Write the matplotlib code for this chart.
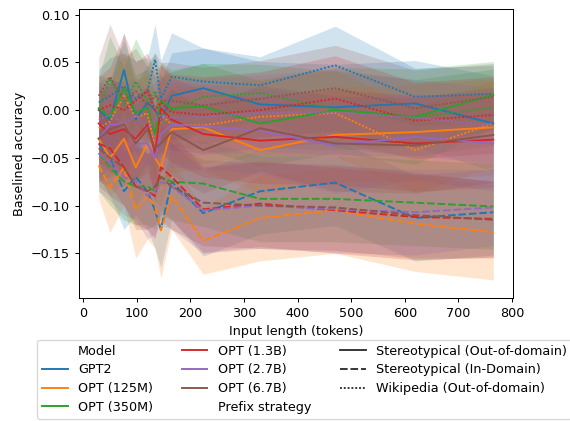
import matplotlib.pyplot as plt
from matplotlib.lines import Line2D

# input lengths (tokens) where the runs were evaluated
x_tokens = [29, 50, 76, 98, 120, 134, 145, 165, 224, 330, 470, 619, 765]

models = ["GPT2", "OPT (125M)", "OPT (350M)", "OPT (1.3B)", "OPT (2.7B)", "OPT (6.7B)"]
colors = ["tab:blue", "tab:orange", "tab:green", "tab:red", "tab:purple", "tab:brown"]

strategies = ["Stereotypical (Out-of-domain)", "Stereotypical (In-Domain)", "Wikipedia (Out-of-domain)"]
dash_styles = ["-", (0, (4, 1.5)), (0, (1, 1))]

# mean baselined accuracy, stereotypical out-of-domain prefix
stereo_ood_mean = {
    "GPT2":       [0.000, -0.010, 0.042, -0.010, 0.008, 0.000, -0.010, 0.015, 0.023, 0.006, 0.003, 0.007, -0.014],
    "OPT (125M)": [-0.030, -0.050, -0.030, -0.060, -0.035, -0.050, -0.060, -0.020, -0.018, -0.042, -0.026, -0.023, -0.018],
    "OPT (350M)": [0.002, -0.007, 0.023, -0.003, 0.003, -0.025, 0.010, 0.002, 0.004, -0.014, 0.000, -0.007, 0.016],
    "OPT (1.3B)": [-0.014, -0.025, -0.020, -0.030, -0.015, -0.045, 0.002, -0.010, -0.025, -0.032, -0.028, -0.035, -0.031],
    "OPT (2.7B)": [-0.030, -0.015, -0.015, -0.035, -0.035, -0.050, -0.025, -0.015, -0.017, -0.022, -0.037, -0.028, -0.035],
    "OPT (6.7B)": [-0.030, -0.020, -0.015, -0.035, -0.020, -0.040, -0.035, -0.023, -0.042, -0.019, -0.035, -0.037, -0.026],
}
stereo_ood_err = {
    "GPT2":       [0.030, 0.035, 0.040, 0.035, 0.040, 0.035, 0.040, 0.045, 0.042, 0.045, 0.045, 0.045, 0.050],
    "OPT (125M)": [0.040, 0.040, 0.045, 0.040, 0.045, 0.045, 0.040, 0.045, 0.045, 0.045, 0.050, 0.050, 0.050],
    "OPT (350M)": [0.035, 0.040, 0.050, 0.040, 0.040, 0.045, 0.040, 0.040, 0.045, 0.045, 0.045, 0.050, 0.035],
    "OPT (1.3B)": [0.040, 0.040, 0.045, 0.045, 0.040, 0.050, 0.045, 0.045, 0.045, 0.045, 0.050, 0.050, 0.050],
    "OPT (2.7B)": [0.040, 0.045, 0.040, 0.045, 0.045, 0.045, 0.040, 0.045, 0.045, 0.045, 0.050, 0.045, 0.050],
    "OPT (6.7B)": [0.045, 0.050, 0.045, 0.040, 0.045, 0.045, 0.045, 0.045, 0.045, 0.045, 0.050, 0.050, 0.050],
}

# stereotypical in-domain prefix
stereo_ind_mean = {
    "GPT2":       [-0.035, -0.050, -0.085, -0.070, -0.085, -0.105, -0.125, -0.075, -0.108, -0.085, -0.076, -0.113, -0.107],
    "OPT (125M)": [-0.058, -0.081, -0.060, -0.105, -0.090, -0.100, -0.126, -0.090, -0.137, -0.113, -0.105, -0.119, -0.128],
    "OPT (350M)": [-0.045, -0.060, -0.075, -0.080, -0.080, -0.085, -0.070, -0.075, -0.077, -0.093, -0.093, -0.097, -0.101],
    "OPT (1.3B)": [-0.035, -0.040, -0.060, -0.080, -0.085, -0.090, -0.060, -0.070, -0.104, -0.098, -0.105, -0.112, -0.114],
    "OPT (2.7B)": [-0.045, -0.055, -0.070, -0.075, -0.090, -0.085, -0.075, -0.080, -0.105, -0.100, -0.104, -0.107, -0.102],
    "OPT (6.7B)": [-0.040, -0.050, -0.060, -0.080, -0.085, -0.080, -0.070, -0.080, -0.097, -0.100, -0.102, -0.110, -0.115],
}
stereo_ind_err = {
    "GPT2":       [0.035, 0.040, 0.040, 0.040, 0.040, 0.040, 0.040, 0.040, 0.045, 0.045, 0.045, 0.045, 0.045],
    "OPT (125M)": [0.035, 0.047, 0.040, 0.050, 0.045, 0.045, 0.050, 0.035, 0.035, 0.045, 0.045, 0.050, 0.050],
    "OPT (350M)": [0.040, 0.040, 0.040, 0.040, 0.040, 0.040, 0.040, 0.040, 0.045, 0.045, 0.045, 0.045, 0.045],
    "OPT (1.3B)": [0.040, 0.040, 0.040, 0.040, 0.040, 0.045, 0.045, 0.045, 0.045, 0.045, 0.045, 0.045, 0.040],
    "OPT (2.7B)": [0.040, 0.040, 0.040, 0.040, 0.045, 0.045, 0.045, 0.045, 0.045, 0.045, 0.045, 0.045, 0.040],
    "OPT (6.7B)": [0.040, 0.040, 0.040, 0.045, 0.040, 0.040, 0.045, 0.045, 0.045, 0.045, 0.045, 0.045, 0.040],
}

# wikipedia out-of-domain prefix
wiki_mean = {
    "GPT2":       [0.008, 0.015, 0.025, 0.012, 0.020, 0.053, 0.012, 0.035, 0.030, 0.026, 0.047, 0.014, 0.017],
    "OPT (125M)": [-0.019, -0.012, 0.015, -0.008, -0.003, -0.040, -0.005, -0.015, -0.016, -0.007, -0.003, -0.042, -0.014],
    "OPT (350M)": [0.000, 0.033, 0.005, 0.030, 0.010, 0.020, -0.005, 0.000, 0.014, 0.018, 0.001, -0.008, 0.003],
    "OPT (1.3B)": [0.000, 0.005, 0.000, 0.010, 0.020, 0.000, 0.008, -0.002, -0.005, 0.000, 0.012, -0.011, -0.005],
    "OPT (2.7B)": [-0.010, -0.005, -0.015, -0.005, -0.020, -0.010, -0.005, -0.008, -0.007, -0.003, -0.002, -0.008, -0.016],
    "OPT (6.7B)": [0.015, 0.035, 0.010, 0.020, 0.005, 0.015, 0.010, 0.010, 0.005, 0.012, 0.023, 0.002, 0.014],
}
wiki_err = {
    "GPT2":       [0.035, 0.040, 0.035, 0.040, 0.035, 0.037, 0.040, 0.046, 0.035, 0.030, 0.041, 0.030, 0.030],
    "OPT (125M)": [0.040, 0.040, 0.045, 0.040, 0.040, 0.040, 0.040, 0.040, 0.040, 0.040, 0.045, 0.045, 0.045],
    "OPT (350M)": [0.035, 0.044, 0.040, 0.045, 0.040, 0.040, 0.040, 0.040, 0.035, 0.030, 0.040, 0.040, 0.040],
    "OPT (1.3B)": [0.035, 0.040, 0.080, 0.040, 0.040, 0.040, 0.040, 0.040, 0.040, 0.040, 0.045, 0.040, 0.040],
    "OPT (2.7B)": [0.040, 0.040, 0.040, 0.040, 0.040, 0.040, 0.040, 0.040, 0.040, 0.040, 0.045, 0.040, 0.040],
    "OPT (6.7B)": [0.040, 0.055, 0.045, 0.045, 0.040, 0.045, 0.040, 0.040, 0.040, 0.040, 0.045, 0.040, 0.035],
}

means = [stereo_ood_mean, stereo_ind_mean, wiki_mean]
errs = [stereo_ood_err, stereo_ind_err, wiki_err]

dpi = 91.5
fig = plt.figure(figsize=(570 / dpi, 421 / dpi), dpi=dpi)
ax = fig.add_axes([0.1386, 0.292, 0.7614, 0.6866])

for m, c in zip(models, colors):
    for s in range(3):
        y = means[s][m]
        e = errs[s][m]
        lo = [a - b for a, b in zip(y, e)]
        hi = [a + b for a, b in zip(y, e)]
        ax.plot(x_tokens, y, color=c, linestyle=dash_styles[s], linewidth=1.5)
        ax.fill_between(x_tokens, lo, hi, color=c, alpha=0.2, linewidth=0)

ax.set_xlim(-7.8, 801.8)
ax.set_ylim(-0.197, 0.106)
ax.set_xticks(range(0, 801, 100))
ax.set_yticks([-0.15, -0.10, -0.05, 0.00, 0.05, 0.10])
ax.set_xlabel("Input length (tokens)")
ax.set_ylabel("Baselined accuracy")

blank = Line2D([], [], color="none")
handles = [blank]
labels = ["Model"]
for m, c in zip(models, colors):
    handles.append(Line2D([], [], color=c, linewidth=1.5))
    labels.append(m)
handles.append(blank)
labels.append("Prefix strategy")
for s in range(3):
    handles.append(Line2D([], [], color=".2", linestyle=dash_styles[s], linewidth=1.5))
    labels.append(strategies[s])

fig.legend(handles, labels, ncol=3, loc="upper left", bbox_to_anchor=(0.054, 0.2085),
           columnspacing=2.3, labelspacing=0.45)

fig.savefig("out.png", dpi=dpi)
